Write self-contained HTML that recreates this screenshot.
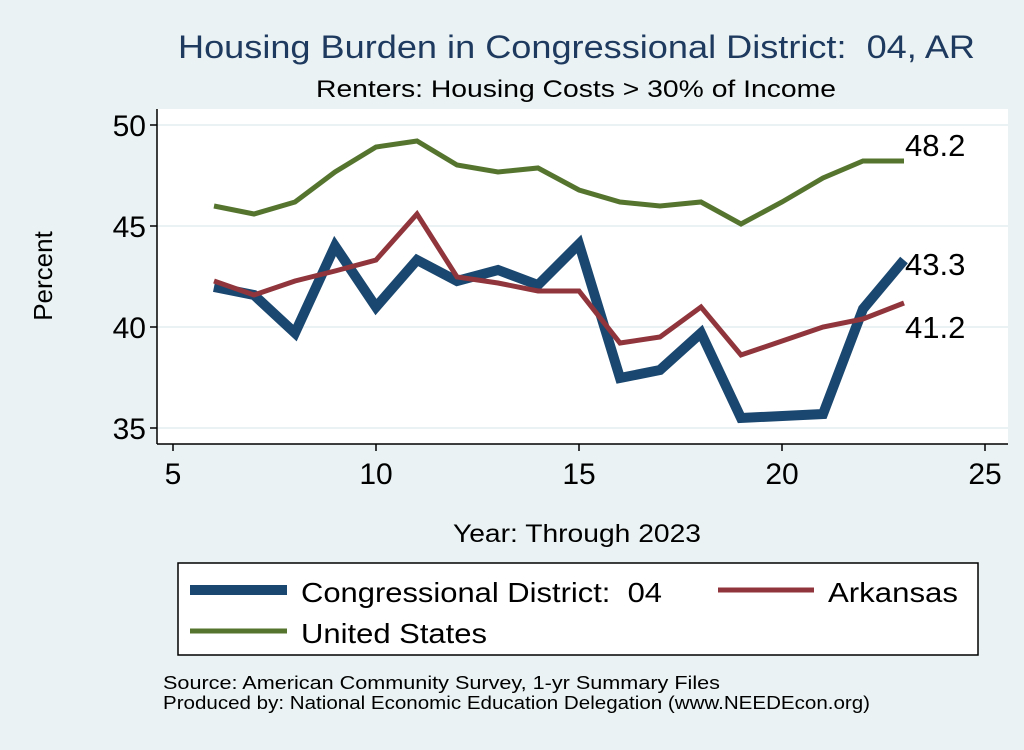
<!DOCTYPE html>
<html><head><meta charset="utf-8"><style>
body{margin:0;width:1024px;height:745px;background:#EAF2F3;overflow:hidden;font-family:"Liberation Sans",sans-serif}
</style></head><body>
<svg width="1024" height="745" viewBox="0 0 1024 745" xmlns="http://www.w3.org/2000/svg" font-family="Liberation Sans, sans-serif">
<rect width="1024" height="745" fill="#EAF2F3"/>
<text x="178" y="58" font-size="32" fill="#1F3A5F" textLength="797" lengthAdjust="spacingAndGlyphs">Housing Burden in Congressional District:&#160; 04, AR</text>
<text x="316" y="97" font-size="24" textLength="520" lengthAdjust="spacingAndGlyphs">Renters: Housing Costs &gt; 30% of Income</text>
<rect x="157" y="109" width="851" height="335" fill="#fff"/>
<g stroke="#EAF2F3" stroke-width="2">
<line x1="157" x2="1008" y1="125" y2="125"/><line x1="157" x2="1008" y1="226" y2="226"/>
<line x1="157" x2="1008" y1="327" y2="327"/><line x1="157" x2="1008" y1="428" y2="428"/>
</g>
<g stroke="#000" stroke-width="1.5">
<line x1="157" y1="109" x2="157" y2="444"/><line x1="157" y1="444" x2="1008" y2="444"/>
<line x1="150" x2="157" y1="125" y2="125"/><line x1="150" x2="157" y1="226" y2="226"/>
<line x1="150" x2="157" y1="327" y2="327"/><line x1="150" x2="157" y1="428" y2="428"/>
<line x1="173" x2="173" y1="444" y2="451"/><line x1="376" x2="376" y1="444" y2="451"/>
<line x1="579" x2="579" y1="444" y2="451"/><line x1="782" x2="782" y1="444" y2="451"/>
<line x1="985" x2="985" y1="444" y2="451"/>
</g>
<g font-size="30" text-anchor="end">
<text x="146" y="136">50</text><text x="146" y="237">45</text><text x="146" y="338">40</text><text x="146" y="439">35</text>
</g>
<g font-size="30" text-anchor="middle">
<text x="173" y="484">5</text><text x="376" y="484">10</text><text x="579" y="484">15</text><text x="782" y="484">20</text><text x="985" y="484">25</text>
</g>
<text x="453" y="542" font-size="25" textLength="248" lengthAdjust="spacingAndGlyphs">Year: Through 2023</text>
<text transform="translate(52,276) rotate(-90)" font-size="26" text-anchor="middle">Percent</text>
<polyline fill="none" stroke="#1A476F" stroke-width="10" points="214,287 254,295 295,333 335,246 376,307 417,260 457,281 498,270 538,285 579,244 620,378 660,370 701,333 741,418 823,414 863,309 904,260"/>
<polyline fill="none" stroke="#90353B" stroke-width="5" points="214,281 254,295 295,281 335,271 376,260 417,214 457,277 498,283 538,291 579,291 620,343 660,337 701,307 741,355 823,327 863,319 904,303"/>
<polyline fill="none" stroke="#55752F" stroke-width="5" points="214,206 254,214 295,202 335,172 376,147 417,141 457,165 498,172 538,168 579,190 620,202 660,206 701,202 741,224 782,202 823,178 863,161 904,161"/>
<g font-size="31">
<text x="905" y="156">48.2</text><text x="905" y="275">43.3</text><text x="905" y="338">41.2</text>
</g>
<rect x="178" y="563" width="800" height="92" fill="#fff" stroke="#000" stroke-width="1.5"/>
<line x1="190" x2="287" y1="590" y2="590" stroke="#1A476F" stroke-width="10"/>
<text x="301" y="602" font-size="28" textLength="361" lengthAdjust="spacingAndGlyphs">Congressional District:&#160; 04</text>
<line x1="718" x2="814" y1="590" y2="590" stroke="#90353B" stroke-width="5"/>
<text x="828" y="602" font-size="28" textLength="130" lengthAdjust="spacingAndGlyphs">Arkansas</text>
<line x1="190" x2="287" y1="631" y2="631" stroke="#55752F" stroke-width="5"/>
<text x="301" y="643" font-size="28" textLength="186" lengthAdjust="spacingAndGlyphs">United States</text>
<text x="163" y="689" font-size="18" textLength="557" lengthAdjust="spacingAndGlyphs">Source: American Community Survey, 1-yr Summary Files</text>
<text x="163" y="709" font-size="18" textLength="707" lengthAdjust="spacingAndGlyphs">Produced by: National Economic Education Delegation (www.NEEDEcon.org)</text>
</svg>
</body></html>
